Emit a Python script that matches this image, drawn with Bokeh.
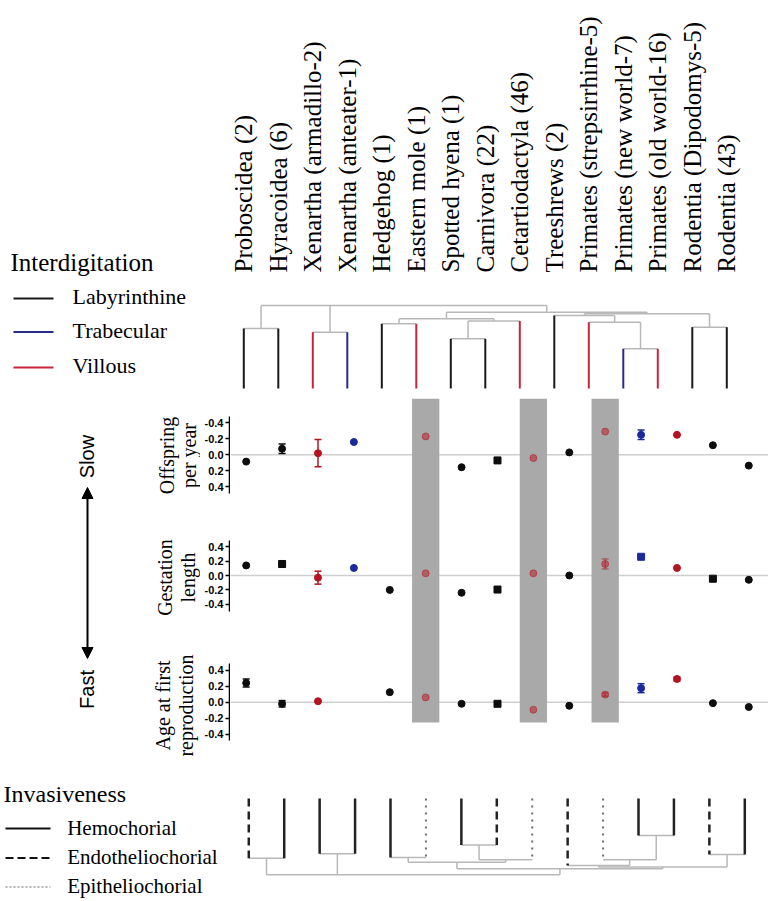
import math
from bokeh.plotting import figure
from bokeh.models import Range1d, ColumnDataSource, FixedTicker, NumeralTickFormatter, Span, Arrow, NormalHead
from bokeh.layouts import row, column
from bokeh.core.properties import value
from bokeh.embed import file_html
from bokeh.resources import INLINE

NAN = float("nan")

# ---------------- data ----------------
taxa = ["Proboscidea (2)", "Hyracoidea (6)", "Xenartha (armadillo-2)", "Xenartha (anteater-1)",
        "Hedgehog (1)", "Eastern mole (1)", "Spotted hyena (1)", "Carnivora (22)",
        "Cetartiodactyla (46)", "Treeshrews (2)", "Primates (strepsirrhine-5)",
        "Primates (new world-7)", "Primates (old world-16)", "Rodentia (Dipodomys-5)", "Rodentia (43)"]
interdigitation = ["Labyrinthine", "Labyrinthine", "Villous", "Trabecular", "Labyrinthine", "Villous",
                   "Labyrinthine", "Labyrinthine", "Villous", "Labyrinthine", "Villous", "Trabecular",
                   "Villous", "Labyrinthine", "Labyrinthine"]
invasiveness = ["Endotheliochorial", "Hemochorial", "Hemochorial", "Hemochorial", "Hemochorial",
                "Epitheliochorial", "Hemochorial", "Endotheliochorial", "Epitheliochorial",
                "Endotheliochorial", "Epitheliochorial", "Hemochorial", "Hemochorial",
                "Endotheliochorial", "Hemochorial"]

offspring = [0.085, -0.076, -0.02, -0.16, NAN, -0.23, 0.155, 0.07, 0.04, -0.03, -0.29, -0.25, -0.25, -0.12, 0.135]
offspring_err = [0, 0.06, 0.17, 0, 0, 0, 0, 0, 0, 0, 0, 0.06, 0, 0, 0]
offspring_marker = ["circle"] * 7 + ["square"] + ["circle"] * 7

gestation = [0.14, 0.16, -0.03, 0.105, -0.2, 0.03, -0.24, -0.195, 0.03, 0.0, 0.16, 0.26, 0.105, -0.045, -0.06]
gestation_err = [0, 0.04, 0.09, 0, 0, 0, 0, 0, 0, 0, 0.07, 0, 0, 0, 0]
gestation_marker = ["circle", "square", "circle", "circle", "circle", "circle", "circle", "square",
                    "circle", "circle", "circle", "square", "circle", "square", "circle"]

age_first = [0.24, -0.02, 0.012, NAN, 0.125, 0.06, -0.02, -0.02, -0.095, -0.045, 0.095, 0.175, 0.29, -0.012, -0.06]
age_first_err = [0.05, 0.04, 0, 0, 0, 0, 0, 0, 0, 0, 0.02, 0.056, 0.025, 0, 0]
age_first_marker = ["circle"] * 7 + ["square"] + ["circle"] * 7

panel_titles = [["Offspring", "per year"], ["Gestation", "length"], ["Age at first", "reproduction"]]
y_ticks = [-0.4, -0.2, 0.0, 0.2, 0.4]
bar_bottom_age = -0.254   # where the grey (epitheliochorial) bands stop, in age-at-first-reproduction units

# phylogeny (same topology for both trees)
TREE = ("root", [("afro", [0, 1]), ("xen", [2, 3]),
                 ("boreo", [("laur", [("eulip", [4, 5]), ("carncet", [("carn", [6, 7]), 8])]),
                            ("euarch", [("euarchonta", [9, ("prim", [10, ("anth", [11, 12])])]),
                                        ("rod", [13, 14])])])])
# node heights (top tree, upward from tips) and depths (bottom tree, downward from tips)
top_join = {"root": 83, "afro": 60, "xen": 56.3, "boreo": 76.3, "laur": 69.7, "eulip": 64.7,
            "carncet": 67.5, "carn": 49.7, "euarch": 74.7, "euarchonta": 73, "prim": 66.3,
            "anth": 39.7, "rod": 61.3}
bottom_join = {"root": 76.3, "afro": 59.7, "xen": 55.3, "boreo": 70.3, "laur": 63.7, "eulip": 59,
               "carncet": 61.3, "carn": 46.5, "euarch": 68.5, "euarchonta": 67, "prim": 61.3,
               "anth": 37, "rod": 56}

interdig_colors = {"Labyrinthine": "#1a1a1a", "Trabecular": "#262a8c", "Villous": "#c8243c"}
point_colors = {"Labyrinthine": "#0d0d0d", "Trabecular": "#1b2a9a", "Villous": "#b3141f"}
highlight_type = "Epitheliochorial"

SERIF = value("Liberation Serif")
SANS = value("Liberation Sans")
GRAY_TREE = "#b8b8b8"
BAR_GRAY = "#a9a9a9"


def build_tree(node, joins, gray, tips):
    if isinstance(node, int):
        return float(node)
    name, children = node
    h = joins[name]
    xs = []
    for ch in children:
        cx = build_tree(ch, joins, gray, tips)
        xs.append(cx)
        if isinstance(ch, int):
            tips.append((ch, h))
        else:
            gray["x0"].append(cx); gray["y0"].append(joins[ch[0]])
            gray["x1"].append(cx); gray["y1"].append(h)
    gray["x0"].append(min(xs)); gray["y0"].append(h)
    gray["x1"].append(max(xs)); gray["y1"].append(h)
    return (min(xs) + max(xs)) / 2


def bare(width, height, xr, yr, **kw):
    opts = dict(min_border=0)
    opts.update(kw)
    p = figure(width=width, height=height, x_range=xr, y_range=yr, output_backend="svg",
               toolbar_location=None, x_axis_location=None, y_axis_location=None,
               outline_line_color=None, **opts)
    p.grid.visible = False
    p.background_fill_color = "white"
    p.border_fill_color = "white"
    return p


n = len(taxa)
idx = list(range(n))

# ---------------- left column (legend, arrow, panel titles) ----------------
L = bare(200, 772, Range1d(0, 200), Range1d(start=772, end=0))
L.text(x=[10], y=[262], text=["Interdigitation"], text_font=SERIF, text_font_size="25px",
       text_align="left", text_baseline="middle", text_color="black")
leg_types = ["Labyrinthine", "Trabecular", "Villous"]
leg_y = [298, 331.5, 367]
L.segment(x0=[13] * 3, y0=leg_y, x1=[53] * 3, y1=leg_y,
          line_color=[interdig_colors[t] for t in leg_types], line_width=2)
L.text(x=[72] * 3, y=[v - 2 for v in leg_y], text=leg_types, text_font=SERIF, text_font_size="22px",
       text_align="left", text_baseline="middle", text_color="black")
L.add_layout(Arrow(start=NormalHead(size=11, fill_color="black", line_color="black"),
                   end=NormalHead(size=11, fill_color="black", line_color="black"),
                   x_start=87, y_start=487, x_end=87, y_end=658, line_width=2, line_color="black"))
L.text(x=[86, 86], y=[456, 689], text=["Slow", "Fast"], angle=math.pi / 2, text_font=SANS,
       text_font_size="20px", text_align="center", text_baseline="middle", text_color="black")
title_y = [455, 577, 705]
title_x = [(166, 188.5), (164, 187.5), (162, 185)]
for (t1, t2), ty, (x1, x2) in zip(panel_titles, title_y, title_x):
    L.text(x=[x1, x2], y=[ty, ty], text=[t1, t2], angle=math.pi / 2, text_font=SERIF,
           text_font_size="20px", text_align="center", text_baseline="middle", text_color="black")

# ---------------- top: labels + interdigitation tree ----------------
T = bare(568, 398, Range1d(-0.4145, 15.209), Range1d(-10, 388), min_border_left=29)
gray = {"x0": [], "y0": [], "x1": [], "y1": []}
tips = []
build_tree(TREE, top_join, gray, tips)
T.segment(x0="x0", y0="y0", x1="x1", y1="y1", source=ColumnDataSource(gray),
          line_color=GRAY_TREE, line_width=1.5)
tip_src = ColumnDataSource(dict(x=[float(i) for i, h in tips], y0=[0] * len(tips), y1=[h for i, h in tips],
                                c=[interdig_colors[interdigitation[i]] for i, h in tips]))
T.segment(x0="x", y0="y0", x1="x", y1="y1", source=tip_src, line_color="c", line_width=2)
T.text(x=idx, y=[116] * n, text=taxa, angle=math.pi / 2, text_font=SERIF, text_font_size="25px",
       text_align="left", text_baseline="middle", text_color="black")


# ---------------- panel axes (three narrow figures, one axis each) ----------------
def axis_fig(yr, bounds, height):
    a = figure(width=30, height=height, x_range=Range1d(0, 1), y_range=yr, output_backend="svg",
               toolbar_location=None, x_axis_location=None, y_axis_location="left",
               min_border_left=29, min_border_right=0, min_border_top=0, min_border_bottom=0,
               outline_line_color=None)
    a.grid.visible = False
    a.background_fill_color = "white"
    a.border_fill_color = "white"
    ax = a.yaxis[0]
    ax.bounds = bounds
    ax.ticker = FixedTicker(ticks=y_ticks)
    ax.formatter = NumeralTickFormatter(format="0.0")
    ax.minor_tick_line_color = None
    ax.major_tick_in = 0
    ax.major_tick_out = 4
    ax.major_tick_line_width = 1.5
    ax.axis_line_width = 1.5
    ax.major_label_standoff = 2
    ax.major_label_text_font = "Liberation Sans"
    ax.major_label_text_font_style = "bold"
    ax.major_label_text_font_size = "11px"
    ax.major_label_text_color = "black"
    return a


A1 = axis_fig(Range1d(start=0.784, end=-0.704), (-0.48, 0.49), 119)
A2 = axis_fig(Range1d(start=-0.861, end=0.806), (-0.496, 0.486), 120)
A3 = axis_fig(Range1d(start=-0.879, end=0.809), (-0.479, 0.4875), 135)

# ---------------- panel plotting area (one figure, three aligned y scales) ----------------
PP = bare(538, 374, Range1d(-0.437, 14.549), Range1d(start=-2.736, end=2.458))
PP.extra_y_ranges = {"off": Range1d(start=3.971, end=-0.704),
                     "age": Range1d(start=-0.879, end=3.796)}
hl = [i for i in idx if invasiveness[i] == highlight_type]
for rn in ["off", "default", "age"]:
    PP.add_layout(Span(location=0, dimension="width", line_color="#cfcfcf", line_width=1.5,
                       y_range_name=rn, level="underlay"))
PP.vbar(x=hl, width=0.76, top=[10] * len(hl), bottom=[bar_bottom_age] * len(hl),
        fill_color=BAR_GRAY, line_color=None, y_range_name="age")

cols = [point_colors[t] for t in interdigitation]
alph = [0.5 if i in hl else 1.0 for i in idx]


def draw_panel(p, vals, errs, markers, rn):
    ei = [i for i in idx if errs[i] > 0 and not math.isnan(vals[i])]
    es = ColumnDataSource(dict(x=ei, lo=[vals[i] - errs[i] for i in ei], hi=[vals[i] + errs[i] for i in ei],
                               c=[cols[i] for i in ei], a=[alph[i] for i in ei]))
    p.segment(x0="x", y0="lo", x1="x", y1="hi", source=es, line_color="c", line_alpha="a",
              line_width=1.5, y_range_name=rn)
    for key in ["lo", "hi"]:
        p.scatter(x="x", y=key, source=es, marker="dash", size=7, line_color="c", line_alpha="a",
                  line_width=1.5, y_range_name=rn)
    src = ColumnDataSource(dict(x=idx, y=vals, c=cols, a=alph, m=markers))
    p.scatter(x="x", y="y", source=src, marker="m", size=7, fill_color="c", line_color="c",
              fill_alpha="a", line_alpha="a", y_range_name=rn)


draw_panel(PP, offspring, offspring_err, offspring_marker, "off")
draw_panel(PP, gestation, gestation_err, gestation_marker, "default")
draw_panel(PP, age_first, age_first_err, age_first_marker, "age")

# ---------------- bottom: invasiveness legend + tree ----------------
B = bare(768, 129, Range1d(-7.008, 14.669), Range1d(start=103, end=-26))
B.extra_x_ranges = {"px": Range1d(0, 768)}
B.extra_y_ranges = {"py": Range1d(start=901, end=772)}
inv_types = ["Hemochorial", "Endotheliochorial", "Epitheliochorial"]
inv_style = {"Hemochorial": dict(line_color="#222222", line_width=2.5, line_dash="solid"),
             "Endotheliochorial": dict(line_color="#222222", line_width=2.5, line_dash="8 5"),
             "Epitheliochorial": dict(line_color="#6e6e6e", line_width=2, line_dash="2 5")}
leg_style = {"Hemochorial": dict(line_color="#111111", line_width=2, line_dash="solid"),
             "Endotheliochorial": dict(line_color="#111111", line_width=2, line_dash="8 4"),
             "Epitheliochorial": dict(line_color="#9a9a9a", line_width=1.5, line_dash="2 2")}
B.text(x=[3], y=[793], text=["Invasiveness"], text_font=SERIF, text_font_size="24px",
       text_align="left", text_baseline="middle", text_color="black",
       x_range_name="px", y_range_name="py")
inv_leg_y = [828, 857.5, 886.5]
for t, ly in zip(inv_types, inv_leg_y):
    B.segment(x0=[5], y0=[ly], x1=[50], y1=[ly], x_range_name="px", y_range_name="py", **leg_style[t])
B.text(x=[66.7] * 3, y=[v - 1 for v in inv_leg_y], text=inv_types, text_font=SERIF, text_font_size="21px",
       text_align="left", text_baseline="middle", text_color="black",
       x_range_name="px", y_range_name="py")
gray_b = {"x0": [], "y0": [], "x1": [], "y1": []}
tips_b = []
build_tree(TREE, bottom_join, gray_b, tips_b)
B.segment(x0="x0", y0="y0", x1="x1", y1="y1", source=ColumnDataSource(gray_b),
          line_color=GRAY_TREE, line_width=1.5)
for t in inv_types:
    sel = [(i, h) for i, h in tips_b if invasiveness[i] == t]
    B.segment(x0=[float(i) for i, h in sel], y0=[0] * len(sel), x1=[float(i) for i, h in sel],
              y1=[h for i, h in sel], **inv_style[t])

layout = column(row(L, column(T, row(column(A1, A2, A3), PP))), B)
open("out.html", "w").write(file_html(layout, INLINE))
